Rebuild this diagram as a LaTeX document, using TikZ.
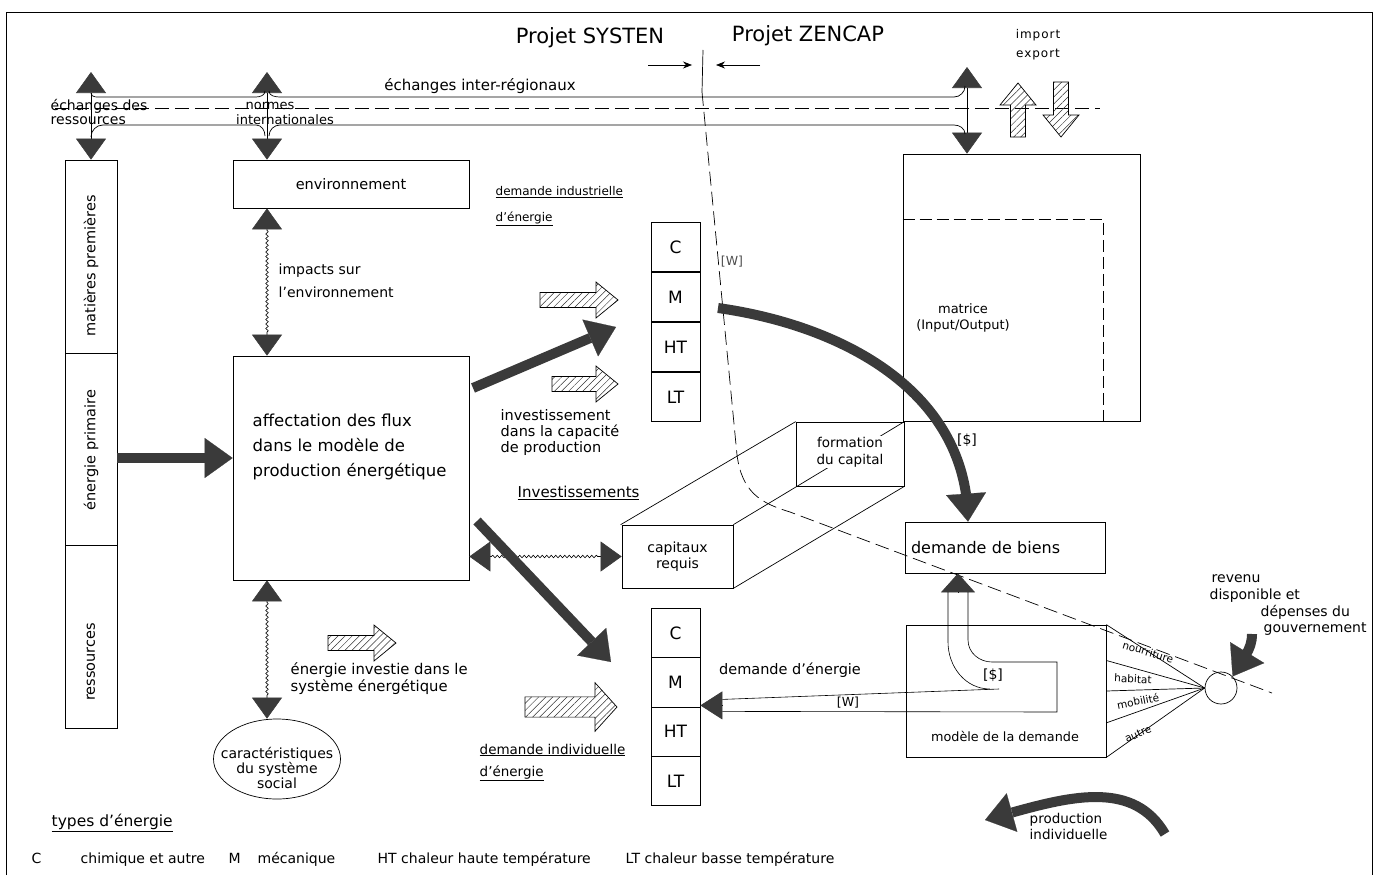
\documentclass[tikz,border=0pt]{standalone}
\usepackage{fontspec}
\setmainfont{DejaVu Sans}
\usetikzlibrary{arrows.meta, bending, calc, shapes.geometric, patterns.meta, decorations.pathmorphing, positioning}
\definecolor{ink}{HTML}{3A3A3A}

\tikzset{
  hatcharrow/.pic={
    \draw[pattern={Lines[angle=45,distance=5pt,line width=0.5pt]}, pattern color=black!80]
      (0,-7.5) -- ({#1-22},-7.5) -- ({#1-22},-18) -- (#1,0) -- ({#1-22},18) -- ({#1-22},7.5) -- (0,7.5) -- cycle;
  }
}

\begin{document}
\begin{tikzpicture}[x=1pt, y=1pt, line width=0.7pt, font=\fontsize{14}{17}\selectfont,
    box/.style={draw, rectangle},
    cell/.style={draw, rectangle, minimum width=49pt, minimum height=49.5pt, font=\fontsize{17}{20}\selectfont},
    tri/.style={{Triangle[length=21pt,width=30pt,color=ink]}-{Triangle[length=21pt,width=30pt,color=ink]}, line width=0.6pt},
    wavy/.style={decorate, decoration={snake, amplitude=1.3pt, segment length=4.5pt, pre length=22pt, post length=22pt}},
    fat/.style={line width=10pt, draw=ink, -{Triangle[length=28pt,width=40pt,line width=0.2pt,color=ink]}},
    small/.style={font=\fontsize{12.5}{14}\selectfont},
    tiny/.style={font=\fontsize{10.5}{12}\selectfont, inner sep=0pt},
    legend/.style={anchor=base west, font=\fontsize{14}{16}\selectfont}]
\useasboundingbox (0,0) rectangle (1375,-875);
% cadre
\draw[line width=0.9pt] (6,-875) -- (6,-12) -- (1372,-12) -- (1372,-875);

% projets
\node[font=\fontsize{21}{24}\selectfont] (systen) at (590,-38) {Projet SYSTEN};
\node[font=\fontsize{21}{24}\selectfont] (zencap) at (808,-36) {Projet ZENCAP};
\coordinate (sysa) at (648,-65); \coordinate (sysb) at (692,-65);
\coordinate (zena) at (760,-65); \coordinate (zenb) at (716,-65);
\draw[-{Stealth[length=9pt,width=7pt]}] (sysa) -- (sysb);
\draw[-{Stealth[length=9pt,width=7pt]}] (zena) -- (zenb);
\coordinate (sep0) at (703,-50); \coordinate (sep1) at (702,-92);
\draw (sep0) -- (sep1);
\draw[dash pattern=on 14pt off 6pt] (sep1) -- (737,-455) .. controls (742,-492) and (760,-503) .. (790,-512) -- (1272,-693);

% colonne de gauche
\node[box, rotate=90, minimum width=193pt, minimum height=52pt] (mat) at (91,-256.5) {};
\node[box, rotate=90, minimum width=192pt, minimum height=52pt] (prim) at (91,-449) {};
\node[box, rotate=90, minimum width=183pt, minimum height=52pt] (res) at (91,-636.5) {};
\node[rotate=90, font=\fontsize{14.5}{17}\selectfont] (matt) at (91,-266) {matières premières};
\node[rotate=90, font=\fontsize{14.5}{17}\selectfont] (primt) at (91,-450) {énergie primaire};
\node[rotate=90, font=\fontsize{14.5}{17}\selectfont] (rest) at (91,-662) {ressources};

% environnement et production
\node[box, minimum width=236pt, minimum height=48pt, font=\fontsize{14.5}{17}\selectfont] (env) at (351,-184) {environnement};
\node[box, minimum width=236pt, minimum height=224pt] (aff) at (351,-468) {};
\node[align=left, anchor=west, font=\fontsize{16.5}{25}\selectfont] (afft) at (249,-447) {affectation des flux\\dans le modèle de\\production énergétique};
\node[draw, ellipse, minimum width=127pt, minimum height=80pt] (soc) at (277,-759) {};
\node[align=center, font=\fontsize{14}{15}\selectfont] (soct) at (277,-768) {caractéristiques\\du système\\social};

% matrice
\node[box, minimum width=237pt, minimum height=267pt] (io) at (1021.5,-287.5) {};
\draw[dash pattern=on 12pt off 5pt] ([yshift=-66pt]io.north west) -| ([xshift=-37pt]io.south east);
\node[align=center, font=\fontsize{13}{16}\selectfont] (iot) at (963,-318) {matrice\\(Input/Output)};
\node[font=\fontsize{14}{16}\selectfont] (dol1) at (967,-440) {[\$]};

% types d'energie
\foreach \t [count=\i from 0] in {C,M,HT,LT} {
  \node[cell] (i\t) at (675.5,{-247-50*\i}) {\t};
  \node[cell] (d\t) at (675.5,{-633-49.3*\i}) {\t};
}
\node[small, text=black!70] (w1) at (732,-262) {[W]};

% bande des echanges
\node[box, minimum width=200pt, minimum height=51pt, text width=188pt, align=left, font=\fontsize{16}{18}\selectfont] (biens) at (1005,-547.5) {demande de biens};
\coordinate (rsT) at (91,-72);
\coordinate (noT) at (267,-72);
\coordinate (ieT) at (967,-67);
\draw[tri] (rsT) -- (mat.east);
\draw[tri] (noT) -- (noT |- env.north);
\draw[tri] (ieT) -- (ieT |- io.north);
\draw (91,-93) to[out=-90,in=180] (103,-97) -- (256,-97) to[out=0,in=-90] (265,-91);
\draw (269,-91) to[out=-90,in=180] (280,-97) -- (954,-97) to[out=0,in=-90] (965,-86);
\draw (91,-137) to[out=90,in=180] (103,-125) -- (256,-125) to[out=0,in=90] (265,-136);
\draw (269,-136) to[out=90,in=180] (280,-125) -- (954,-125) to[out=0,in=90] (965,-134);
\draw[dash pattern=on 14pt off 6pt] (55,-108) -- (1100,-108);
\node[font=\fontsize{14}{16}\selectfont, anchor=west] (ech1) at (47,-106) {échanges des};
\node[font=\fontsize{14}{16}\selectfont, anchor=west] (ech2) at (47,-121) {ressources};
\node[font=\fontsize{13}{15}\selectfont] (nor1) at (270,-106) {normes};
\node[font=\fontsize{13}{15}\selectfont] (nor2) at (285,-120) {internationales};
\node[font=\fontsize{15}{18}\selectfont] (inter) at (480,-86) {échanges inter-régionaux};
\node[font=\fontsize{12}{14}\selectfont\addfontfeatures{LetterSpace=8}] (imp) at (1038,-35) {import};
\node[font=\fontsize{12}{14}\selectfont\addfontfeatures{LetterSpace=8}] (exp) at (1038,-55) {export};
\pic at (1018,-137) [rotate=90] {hatcharrow=54};
\pic at (1061,-82) [rotate=-90] {hatcharrow=55};

% liens ondules
\draw[tri, wavy] (noT |- env.south) -- (noT |- aff.north);
\draw[tri, wavy] (noT |- aff.south) -- (noT |- soc.north);
\node[anchor=west, align=left, font=\fontsize{14}{23}\selectfont] (imp1) at (275,-281) {impacts sur\\l'environnement};

% capital
\node[box, minimum width=108pt, minimum height=64pt] (form) at (850,-454) {};
\draw (form.north west) -- ++(-175,-103) coordinate (cnw);
\node[box, fill=white, minimum width=111pt, minimum height=63pt, align=center, font=\fontsize{14}{16}\selectfont] (cap) at (677.5,-556.5) {capitaux\\requis};
\draw (cap.north east) -- (form.north east);
\draw (cap.south east) -- (form.south east);
\node[fill=white, inner sep=1pt, align=center, font=\fontsize{13.5}{17}\selectfont] (formt) at (850,-452) {formation\\du capital};
\draw[tri, wavy] (aff.east |- cap.west) -- (cap.west);
\node[anchor=west, font=\fontsize{15}{17}\selectfont] (inv) at (514,-493) {\underline{Investissements}};

% fleches epaisses
\coordinate (pa) at ($(prim.south)+(0,-9)$);
\draw[fat] (pa) -- (pa -| aff.west);
\coordinate (fa) at (473,-388); \coordinate (fa2) at (616,-327);
\draw[fat] (fa) -- (fa2);
\coordinate (fb) at (477,-521); \coordinate (fb2) at (611,-662);
\draw[fat] (fb) -- (fb2);
\coordinate (gs) at (718,-308);
\draw[fat] (gs) to[out=-8,in=90] (biens.north -| 968,0);

% fleches hachurees
\pic at (540,-300) {hatcharrow=78};
\pic at (552,-384) {hatcharrow=66};
\pic at (328,-643) {hatcharrow=68};
\pic at (525,-707) [yscale=1.35] {hatcharrow=92};

\node[anchor=west, font=\fontsize{12}{15}\selectfont] (dind1) at (492,-192) {\underline{demande industrielle}};
\node[anchor=west, font=\fontsize{12}{15}\selectfont] (dind2) at (492,-219) {\underline{d'énergie}};
\node[anchor=north west, align=left, font=\fontsize{14.5}{16}\selectfont] (invc) at (497,-406) {investissement\\dans la capacité\\de production};
\node[anchor=west, align=left, font=\fontsize{14.8}{17}\selectfont] (einv) at (287,-679) {énergie investie dans le\\système énergétique};
\node[anchor=west, font=\fontsize{13.5}{15}\selectfont] (dindiv1) at (476,-750) {\underline{demande individuelle}};
\node[anchor=west, font=\fontsize{13.5}{15}\selectfont] (dindiv2) at (476,-773) {\underline{d'énergie}};

% modele de la demande
\node[box, minimum width=200pt, minimum height=132pt] (model) at (1006,-691) {};
\node[font=\fontsize{12.8}{15}\selectfont] (modelt) at (1005,-736) {modèle de la demande};
\node[draw, circle, minimum size=32pt, inner sep=0pt] (circ) at (1221,-688) {};
\draw (model.north east) -- (circ.west) -- (model.south east);
\foreach \f in {0.27,0.5,0.74} \draw ($(model.north east)!\f!(model.south east)$) -- (circ.west);
\node[tiny, rotate=-17] (nour) at (1148,-652) {nourriture};
\node[tiny, rotate=-3] (hab) at (1133,-679) {habitat};
\node[tiny, rotate=11] (mob) at (1138,-701) {mobilité};
\node[tiny, rotate=24] (aut) at (1138,-734) {autre};

\coordinate (bt) at (958,-592);
\draw[-{Triangle[length=19pt,width=34pt,color=ink]}] (bt) -- (bt |- biens.south);
\coordinate (dtip) at ($(dM.south east)+(0,2)$);
\coordinate (dbase) at ($(dtip)+(22,0)$);
\draw[-{Triangle[length=22pt,width=28pt,color=ink]}] (dbase) -- (dtip);
\draw[line width=0.6pt] (948,-592) -- (948,-642) to[out=-90,in=180] (990,-689);
\draw[line width=0.6pt] (999,-689) -- ($(dbase)+(0,6)$);
\draw[line width=0.6pt] (968,-592) -- (968,-640) to[out=-90,in=180] (992,-662) -- (1057,-662) -- (1057,-712) -- ($(dbase)+(0,-6)$);
\node[font=\fontsize{14.5}{17}\selectfont] (dener) at (790,-670) {demande d'énergie};
\node[small] (w2) at (848,-703) {[W]};
\node[font=\fontsize{14}{16}\selectfont] (dol2) at (993,-675) {[\$]};

% revenu
\node[anchor=west] (rev1) at (1208,-579) {revenu};
\node[anchor=west] (rev2) at (1206,-596) {disponible et};
\node[anchor=west] (rev3) at (1257,-612) {dépenses du};
\node[anchor=west] (rev4) at (1260,-629) {gouvernement};
\coordinate (rv) at (1252,-634);
\draw[fat] (rv) to[out=-90,in=65] (circ.north east);

% production individuelle
\coordinate (pi1) at (1165,-834); \coordinate (pi2) at (985,-820);
\draw[fat] (pi1) to[out=120,in=15] (pi2);
\node[anchor=west, align=left, font=\fontsize{13.5}{16}\selectfont] (prod) at (1026,-826) {production\\individuelle};

% legende
\node[anchor=west, font=\fontsize{15.5}{17}\selectfont] (types) at (48,-823) {\underline{types d'énergie}};
\node[legend] (leg1a) at (28,-863) {C};
\node[legend] (leg1) at (77,-863) {chimique et autre};
\node[legend] (leg2a) at (225,-863) {M};
\node[legend] (leg2) at (254,-863) {mécanique};
\node[legend] (leg3) at (374,-863) {HT chaleur haute température};
\node[legend] (leg4) at (622,-863) {LT chaleur basse température};
\end{tikzpicture}
\end{document}
